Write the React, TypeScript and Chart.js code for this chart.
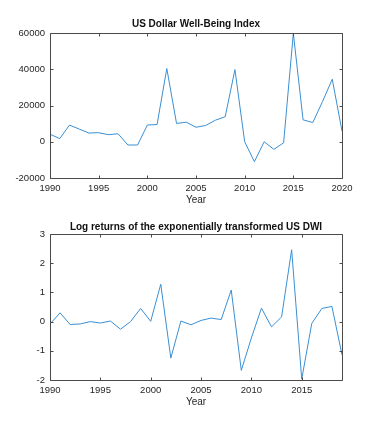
import React, { useEffect, useRef } from "react";
import { Chart, registerables } from "chart.js";

Chart.register(...registerables);

// ---- Data ----
const dwiYears = [
  1990, 1991, 1992, 1993, 1994, 1995, 1996, 1997, 1998, 1999, 2000, 2001, 2002, 2003, 2004, 2005,
  2006, 2007, 2008, 2009, 2010, 2011, 2012, 2013, 2014, 2015, 2016, 2017, 2018, 2019, 2020,
];
const dwiValues = [
  4200, 1700, 9200, 7000, 4800, 5000, 3900, 4400, -1800, -1800, 9200, 9500, 40400, 10100, 10800, 8000,
  9000, 11900, 13800, 39800, 0, -11000, 0, -4200, -600, 59800, 12100, 10600, 22200, 34500, 5900,
];
const dwiXTicks = [1990, 1995, 2000, 2005, 2010, 2015, 2020];
const dwiYTicks = [-20000, 0, 20000, 40000, 60000];

const logYears = [
  1990, 1991, 1992, 1993, 1994, 1995, 1996, 1997, 1998, 1999, 2000, 2001, 2002, 2003, 2004,
  2005, 2006, 2007, 2008, 2009, 2010, 2011, 2012, 2013, 2014, 2015, 2016, 2017, 2018, 2019,
];
const logValues = [
  -0.08, 0.3, -0.1, -0.08, 0.0, -0.05, 0.02, -0.26, 0.0, 0.45, 0.01, 1.28, -1.25, 0.02, -0.11,
  0.04, 0.12, 0.07, 1.08, -1.67, -0.56, 0.46, -0.18, 0.16, 2.46, -1.97, -0.06, 0.45, 0.52, -1.14,
];
const logXTicks = [1990, 1995, 2000, 2005, 2010, 2015];
const logYTicks = [-2, -1, 0, 1, 2, 3];

const TITLE_TOP = "US Dollar Well-Being Index";
const TITLE_BOTTOM = "Log returns of the exponentially transformed US DWI";
const X_LABEL = "Year";

// ---- Styles ----
const FONT = '"Liberation Sans", Arial, Helvetica, sans-serif';
const LINE_COLOR = "#3a8fd3";
const AXIS_COLOR = "#4a4a4a";
const TEXT_COLOR = "#262626";

const boxPlugin = {
  id: "octaveBox",
  afterDatasetsDraw(chart: any, _args: any, opts: any) {
    const { ctx, chartArea } = chart;
    const { left, right, top, bottom } = chartArea;
    const xs = chart.scales.x;
    const ys = chart.scales.y;
    const r = (v: number) => Math.round(v) + 0.5;
    const tl = 3;
    ctx.save();
    ctx.strokeStyle = AXIS_COLOR;
    ctx.lineWidth = 1;
    ctx.beginPath();
    ctx.rect(r(left), r(top), Math.round(right) - Math.round(left), Math.round(bottom) - Math.round(top));
    xs.ticks.forEach((t: any) => {
      const px = r(xs.getPixelForValue(t.value));
      ctx.moveTo(px, r(bottom));
      ctx.lineTo(px, r(bottom) - tl);
      ctx.moveTo(px, r(top));
      ctx.lineTo(px, r(top) + tl);
    });
    ys.ticks.forEach((t: any) => {
      const py = r(ys.getPixelForValue(t.value));
      ctx.moveTo(r(left), py);
      ctx.lineTo(r(left) + tl, py);
      ctx.moveTo(r(right), py);
      ctx.lineTo(r(right) - tl, py);
    });
    ctx.stroke();
    // title centred over the axes box
    if (opts && opts.text) {
      ctx.fillStyle = "#111";
      ctx.font = "bold 10px " + FONT;
      ctx.textAlign = "center";
      ctx.textBaseline = "middle";
      ctx.fillText(opts.text, (left + right) / 2, opts.y);
    }
    ctx.restore();
  },
};

type PanelProps = {
  top: number;
  height: number;
  title: string;
  areaTop: number;
  titleY: number;
  years: number[];
  values: number[];
  xTicks: number[];
  yTicks: number[];
};

function Panel(props: PanelProps) {
  const ref = useRef<HTMLCanvasElement | null>(null);
  useEffect(() => {
    if (!ref.current) return;
    const { years, values, xTicks, yTicks } = props;
    const chart = new Chart(ref.current, {
      type: "line",
      data: {
        datasets: [
          {
            data: years.map((x, i) => ({ x, y: values[i] })),
            borderColor: LINE_COLOR,
            borderWidth: 1,
            pointRadius: 0,
            tension: 0,
            fill: false,
          },
        ],
      },
      options: {
        animation: false,
        responsive: false,
        maintainAspectRatio: false,
        layout: { padding: { left: 0, right: 36, top: props.areaTop, bottom: 0 } },
        plugins: {
          legend: { display: false },
          tooltip: { enabled: false },
          title: { display: false },
          octaveBox: { text: props.title, y: props.titleY },
        },
        scales: {
          x: {
            type: "linear",
            min: years[0],
            max: years[years.length - 1],
            grid: { display: false, drawTicks: false },
            border: { display: false },
            afterBuildTicks: (s: any) => {
              s.ticks = xTicks.map((v) => ({ value: v }));
            },
            afterFit: (s: any) => {
              s.height = 30;
            },
            ticks: {
              autoSkip: false,
              maxRotation: 0,
              padding: 5,
              color: TEXT_COLOR,
              font: { family: FONT, size: 9.5 },
              callback: (v: any) => String(v),
            },
            title: {
              display: true,
              text: X_LABEL,
              color: TEXT_COLOR,
              font: { family: FONT, size: 10 },
              padding: { top: 0, bottom: 2 },
            },
          },
          y: {
            type: "linear",
            min: yTicks[0],
            max: yTicks[yTicks.length - 1],
            grid: { display: false, drawTicks: false },
            border: { display: false },
            afterBuildTicks: (s: any) => {
              s.ticks = yTicks.map((v) => ({ value: v }));
            },
            afterFit: (s: any) => {
              s.width = 50;
            },
            ticks: {
              padding: 5,
              color: TEXT_COLOR,
              font: { family: FONT, size: 9.5 },
              callback: (v: any) => String(v),
            },
          },
        },
      },
      plugins: [boxPlugin],
    } as any);
    return () => chart.destroy();
  }, []);
  return (
    <canvas
      ref={ref}
      width={378}
      height={props.height}
      style={{ position: "absolute", left: 0, top: props.top, width: 378, height: props.height }}
    />
  );
}

export default function App() {
  return (
    <div style={{ position: "fixed", left: 0, top: 0, width: 378, height: 428, background: "#fff" }}>
      <Panel
        top={0}
        height={208}
        title={TITLE_TOP}
        areaTop={33}
        titleY={24.5}
        years={dwiYears}
        values={dwiValues}
        xTicks={dwiXTicks}
        yTicks={dwiYTicks}
      />
      <Panel
        top={210}
        height={200}
        title={TITLE_BOTTOM}
        areaTop={24}
        titleY={17.5}
        years={logYears}
        values={logValues}
        xTicks={logXTicks}
        yTicks={logYTicks}
      />
    </div>
  );
}
